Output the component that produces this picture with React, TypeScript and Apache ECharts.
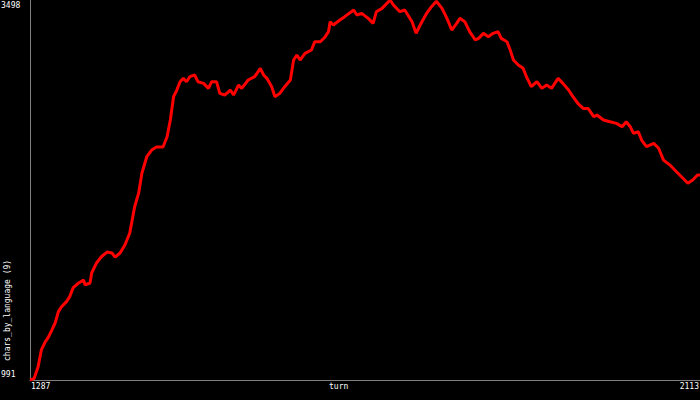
import React, { useEffect, useRef } from "react";
import * as echarts from "echarts";

const turns = [
  1287, 1292, 1297, 1301, 1305, 1310, 1314, 1318, 1322, 1326, 1332, 1336, 1340, 1347, 1353, 1355, 1361, 1363, 1369, 1375,
  1382, 1388, 1392, 1398, 1404, 1410, 1413, 1416, 1421, 1425, 1431, 1437, 1443, 1451, 1456, 1460, 1464, 1468, 1472, 1476,
  1480, 1484, 1490, 1494, 1501, 1507, 1511, 1517, 1521, 1527, 1534, 1538, 1544, 1548, 1556, 1564, 1571, 1575, 1579, 1585,
  1589, 1595, 1601, 1608, 1612, 1616, 1620, 1626, 1634, 1638, 1645, 1651, 1655, 1657, 1661, 1669, 1675, 1686, 1690, 1696,
  1704, 1710, 1714, 1721, 1731, 1735, 1743, 1749, 1758, 1763, 1768, 1776, 1782, 1788, 1795, 1801, 1807, 1813, 1817, 1823,
  1829, 1836, 1840, 1846, 1852, 1858, 1864, 1868, 1875, 1879, 1883, 1889, 1895, 1899, 1905, 1912, 1918, 1924, 1930, 1938,
  1944, 1951, 1957, 1963, 1969, 1975, 1982, 1986, 1994, 2002, 2010, 2017, 2022, 2027, 2031, 2037, 2041, 2047, 2056, 2062,
  2068, 2076, 2084, 2092, 2098, 2104, 2110, 2113,
];

const charsByLanguage = [
  991, 1000, 1079, 1189, 1235, 1277, 1321, 1367, 1442, 1475, 1508, 1541, 1598, 1631, 1651, 1618, 1631, 1697, 1763, 1804,
  1835, 1829, 1802, 1829, 1882, 1961, 2047, 2134, 2225, 2357, 2464, 2508, 2528, 2528, 2596, 2706, 2860, 2904, 2959, 2981,
  2959, 2992, 3003, 2959, 2948, 2915, 2959, 2959, 2882, 2871, 2904, 2871, 2937, 2915, 2970, 2992, 3047, 3003, 2981, 2926,
  2860, 2882, 2926, 2970, 3102, 3135, 3102, 3146, 3168, 3223, 3223, 3256, 3289, 3355, 3333, 3366, 3388, 3432, 3399, 3410,
  3377, 3344, 3421, 3443, 3498, 3465, 3421, 3432, 3355, 3278, 3333, 3410, 3454, 3490, 3443, 3377, 3300, 3344, 3377, 3355,
  3289, 3234, 3245, 3278, 3256, 3278, 3289, 3245, 3223, 3168, 3102, 3069, 3047, 2992, 2926, 2959, 2915, 2937, 2915, 2981,
  2948, 2904, 2855, 2812, 2783, 2783, 2728, 2739, 2706, 2695, 2684, 2662, 2695, 2662, 2618, 2629, 2574, 2530, 2552, 2520,
  2442, 2409, 2365, 2322, 2289, 2310, 2343, 2343,
];

const xTickLabels = [1287, 2113];
const yTickLabels = [991, 3498];
const xName = "turn";
const yName = "chars_by_language (9)";

export default function App() {
  const ref = useRef<HTMLDivElement>(null);
  useEffect(() => {
    if (!ref.current) return;
    const chart = echarts.init(ref.current, null, { renderer: "svg" });
    const font = "DejaVu Sans Mono";
    const txt = { fill: "#ffffff", fontFamily: font, fontSize: 8 };
    chart.setOption({
      animation: false,
      backgroundColor: "#000000",
      grid: { left: 30, right: 0, top: 0, bottom: 20 },
      xAxis: {
        type: "value",
        min: xTickLabels[0],
        max: xTickLabels[1],
        axisLine: { show: true, lineStyle: { color: "#808080", width: 1 } },
        axisTick: { show: false },
        splitLine: { show: false },
        axisLabel: { show: false },
      },
      yAxis: {
        type: "value",
        min: yTickLabels[0],
        max: yTickLabels[1],
        axisLine: { show: true, lineStyle: { color: "#808080", width: 1 } },
        axisTick: { show: false },
        splitLine: { show: false },
        axisLabel: { show: false },
      },
      graphic: [
        { type: "text", x: 31, y: 382, style: { text: String(xTickLabels[0]), ...txt } },
        { type: "text", x: 699, y: 382, style: { text: String(xTickLabels[1]), ...txt, align: "right" } },
        { type: "text", x: 1, y: 370, style: { text: String(yTickLabels[0]), ...txt } },
        { type: "text", x: 1, y: 1, style: { text: String(yTickLabels[1]), ...txt } },
        { type: "text", x: 329, y: 382, style: { text: xName, ...txt } },
        {
          type: "text",
          x: 3,
          y: 361,
          rotation: Math.PI / 2,
          style: { text: yName, ...txt, align: "left", verticalAlign: "top" },
        },
      ],
      series: [
        {
          type: "line",
          data: turns.map((t, i) => [t, charsByLanguage[i]]),
          showSymbol: false,
          clip: false,
          lineStyle: { color: "#ff0000", width: 3 },
        },
      ],
    });
    return () => chart.dispose();
  }, []);
  return <div ref={ref} style={{ width: 700, height: 400, position: "absolute", left: 0, top: 0 }} />;
}
